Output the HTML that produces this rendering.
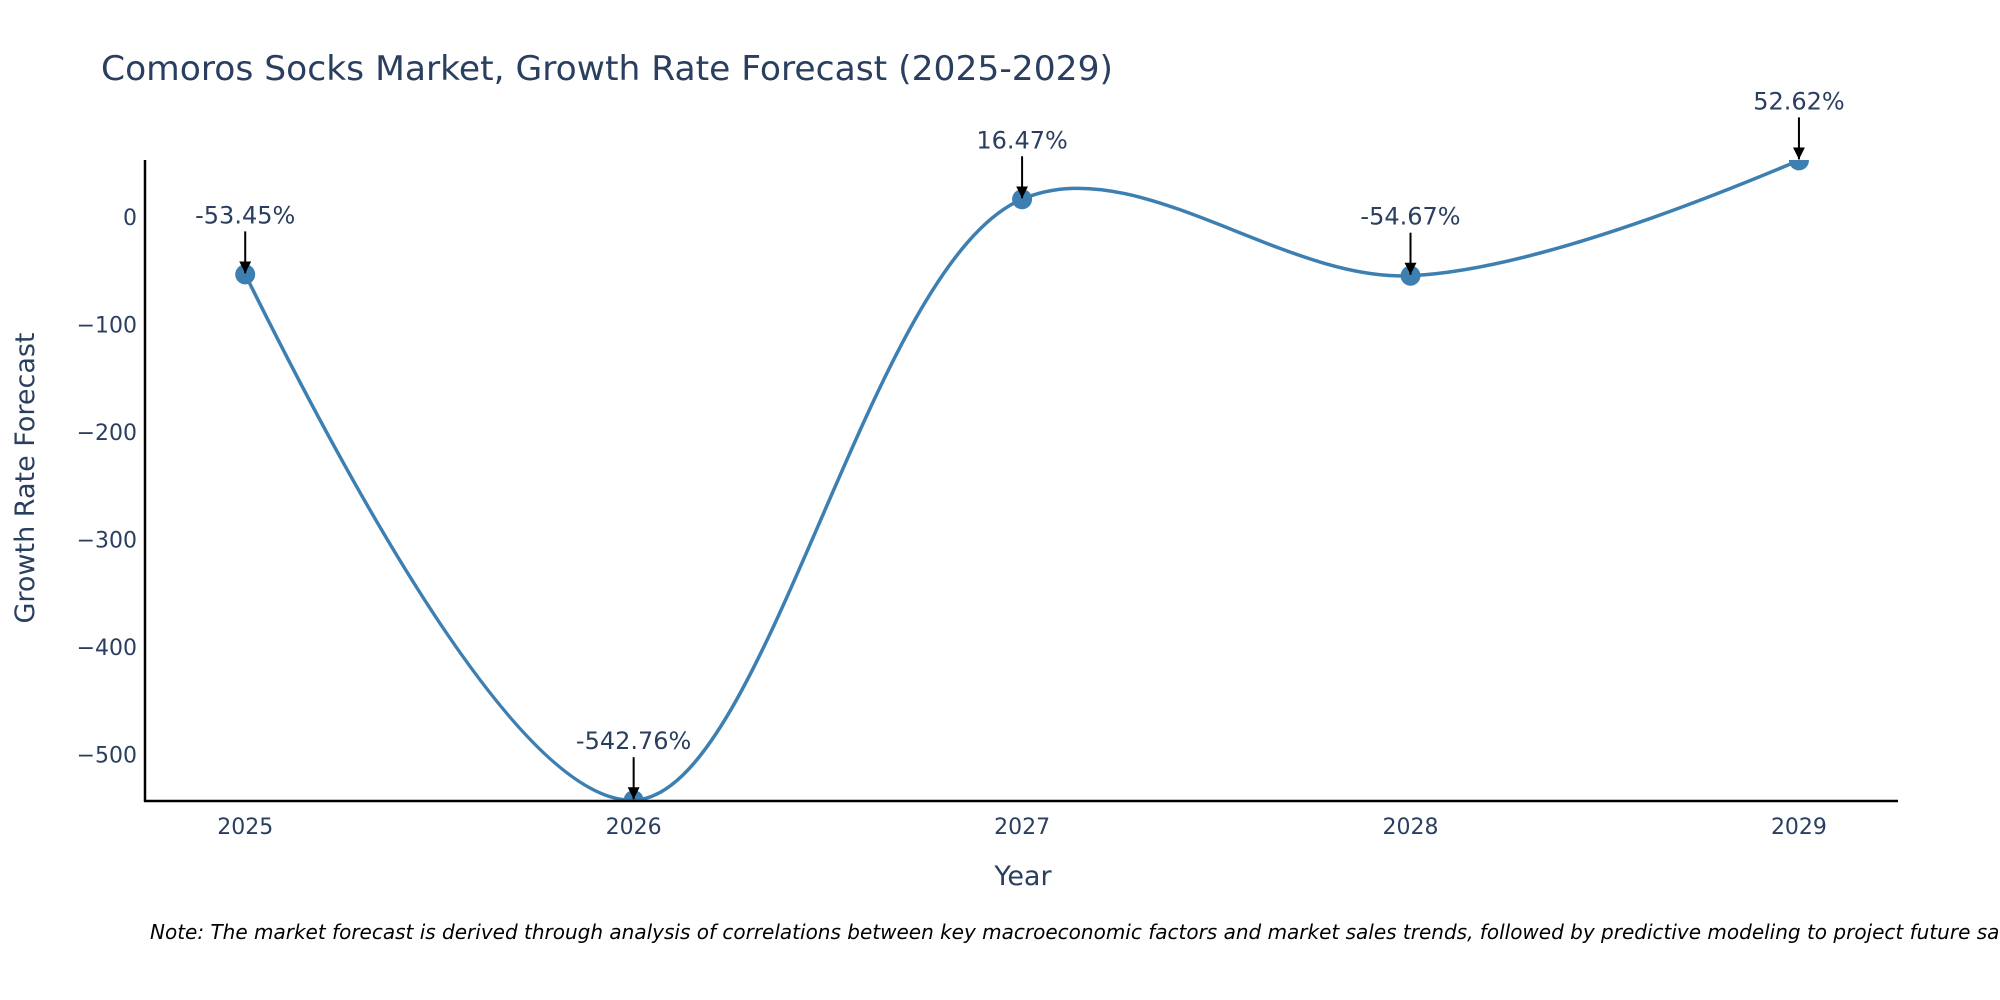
<!DOCTYPE html>
<html><head><meta charset="utf-8"><style>
body{margin:0;background:#fff;}
svg{display:block;font-family:"DejaVu Sans","Liberation Sans",sans-serif;}
</style></head><body>
<svg id="chart" width="2000" height="1000" viewBox="0 0 2000 1000">
<defs>
<clipPath id="plotclip"><rect x="145" y="160" width="1753" height="641"/></clipPath>
<marker id="ah" viewBox="0 0 10 10" refX="10" refY="5" markerWidth="6" markerHeight="6" orient="auto"><path d="M0,0 L10,5 L0,10 z" fill="#000"/></marker>
</defs>
<text x="101" y="80" font-size="34" fill="#2a3f5f" textLength="1012" lengthAdjust="spacingAndGlyphs">Comoros Socks Market, Growth Rate Forecast (2025-2029)</text>
<g id="yticks"></g><g id="xticks"></g>
<g clip-path="url(#plotclip)"><path id="line" fill="none" stroke="#3d7fb0" stroke-width="3.5"/><g id="markers"></g></g>
<line x1="145" y1="160" x2="145" y2="802" stroke="#000" stroke-width="2.5"/>
<line x1="144" y1="801" x2="1898" y2="801" stroke="#000" stroke-width="2.5"/>
<g id="annots"></g>
<text x="1023" y="885" font-size="27" fill="#2a3f5f" text-anchor="middle">Year</text>
<text transform="translate(34,478) rotate(-90)" font-size="27" fill="#2a3f5f" text-anchor="middle">Growth Rate Forecast</text>
<text x="150" y="939" font-size="20" font-style="italic" fill="#000">Note: The market forecast is derived through analysis of correlations between key macroeconomic factors and market sales trends, followed by predictive modeling to project future sales.</text>
</svg>
<script>
const years = [2025, 2026, 2027, 2028, 2029];
const growth = [-53.45, -542.76, 16.47, -54.67, 52.62];
const labels = ["-53.45%", "-542.76%", "16.47%", "-54.67%", "52.62%"];
const yTicks = [0, -100, -200, -300, -400, -500];
const xTicks = [2025, 2026, 2027, 2028, 2029];
const NS = "http://www.w3.org/2000/svg";
const X0 = 145, X1 = 1898, Y0 = 160, Y1 = 801;
const xMin = 2024.742, xMax = 2029.255, yMin = -543.5, yMax = 53;
function xs(v){return X0 + (v - xMin) / (xMax - xMin) * (X1 - X0);}
function ys(v){return Y1 - (v - yMin) / (yMax - yMin) * (Y1 - Y0);}
function mk(tag, attrs, parent){const e=document.createElementNS(NS,tag);for(const k in attrs)e.setAttribute(k,attrs[k]);parent.appendChild(e);return e;}
const yt = document.getElementById('yticks');
yTicks.forEach(t=>{
  const e = mk('text',{x:137,y:ys(t)+8,'font-size':22,fill:'#2a3f5f','text-anchor':'end'},yt);
  
  
  e.textContent = t < 0 ? '\u2212' + Math.abs(t) : String(t);
});
const xt = document.getElementById('xticks');
xTicks.forEach(t=>{
  const e = mk('text',{x:xs(t),y:834,'font-size':22,fill:'#2a3f5f','text-anchor':'middle'},xt);
  
  
  e.textContent = String(t);
});
const pts = years.map((y,i)=>[xs(y), ys(growth[i])]);
let d = 'M' + pts[0][0] + ',' + pts[0][1];
const s = 1.0;
function ctrl(p0,p1,p2){
  const dx1=p1[0]-p0[0],dy1=p1[1]-p0[1],dx2=p2[0]-p1[0],dy2=p2[1]-p1[1];
  const d1=Math.pow(dx1*dx1+dy1*dy1,0.25),d2=Math.pow(dx2*dx2+dy2*dy2,0.25);
  const nx=(d2*d2*dx1+d1*d1*dx2)*s, ny=(d2*d2*dy1+d1*d1*dy2)*s;
  const den1=3*d2*(d1+d2), den2=3*d1*(d1+d2);
  return [[p1[0]-nx/den1, p1[1]-ny/den1],[p1[0]+nx/den2, p1[1]+ny/den2]];
}
const cps = [];
for(let i=1;i<pts.length-1;i++) cps.push(ctrl(pts[i-1],pts[i],pts[i+1]));
d += 'Q' + cps[0][0][0] + ',' + cps[0][0][1] + ' ' + pts[1][0] + ',' + pts[1][1];
for(let i=2;i<pts.length-1;i++){
  d += 'C' + cps[i-2][1][0] + ',' + cps[i-2][1][1] + ' ' + cps[i-1][0][0] + ',' + cps[i-1][0][1] + ' ' + pts[i][0] + ',' + pts[i][1];
}
const last = cps[cps.length-1][1];
d += 'Q' + last[0] + ',' + last[1] + ' ' + pts[pts.length-1][0] + ',' + pts[pts.length-1][1];
document.getElementById('line').setAttribute('d', d);
const mg = document.getElementById('markers');
const ag = document.getElementById('annots');
pts.forEach((p,i)=>{
  const c = mk('circle',{cx:p[0],cy:p[1],r:10,fill:'#3d7fb0'},mg);
  
  
  const a = mk('line',{x1:p[0],y1:p[1]-43,x2:p[0],y2:p[1]-1,stroke:'#000','stroke-width':2,'marker-end':'url(#ah)'},ag);
  
  
  const t = mk('text',{x:p[0],y:p[1]-51,'font-size':24,fill:'#2a3f5f','text-anchor':'middle'},ag);
  
  
  t.textContent = labels[i];
});
</script>
</body></html>
